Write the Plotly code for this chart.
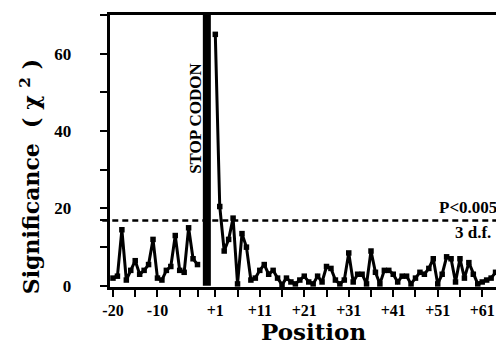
import plotly.graph_objects as go

# ---- data ----
neg_positions = list(range(-20, 0))
neg_values = [2, 2.5, 14.5, 1.5, 4, 6.5, 3, 4, 5.5, 12,
              2, 1.5, 4, 5, 13, 4, 3.5, 15, 7, 5.5]

pos_positions = list(range(1, 65))
pos_values = [65, 20.5, 9, 12, 17.5, 0.5, 13.5, 10, 1.5, 2,
              4, 5.5, 3, 4, 2, 0.3, 2, 1, 0.5, 1.5,
              2.5, 1, 0.5, 2.5, 1, 5, 4.5, 1.5, 0.5, 1.5,
              8.5, 1, 3, 3, 0.5, 9, 3.5, 0.5, 4, 4,
              3, 1, 2.5, 2.5, 0.5, 2, 3.5, 3, 4.5, 7,
              0.5, 3, 7.5, 7, 1, 7, 2, 6, 3, 0.5,
              1, 1.5, 2, 3.5]

threshold = 16.9
tick_positions = [-20, -15, -10, -5, -1, 1, 6, 11, 16, 21, 26, 31, 36, 41, 46, 51, 56, 61]
labelled_ticks = {-20: "-20", -10: "-10", 1: "+1", 11: "+11", 21: "+21",
                  31: "+31", 41: "+41", 51: "+51", 61: "+61"}
y_ticks = [0, 10, 20, 30, 40, 50, 60, 70]
y_labels = {0: "0", 20: "20", 40: "40", 60: "60"}

STOP_GAP = 2  # axis room taken by the stop codon between -1 and +1


def axis_x(p):
    return p if p < 0 else p + STOP_GAP


serif = "Liberation Serif"
wide_serif = "DejaVu Serif"
PAD = "\u00a0" * 6  # gap between y tick labels and ticks

fig = go.Figure()
line_style = dict(color="black", width=3)
marker_style = dict(symbol="square", size=5.5, color="black")
fig.add_trace(go.Scatter(x=[axis_x(p) for p in neg_positions], y=neg_values,
                         mode="lines+markers", line=line_style, marker=marker_style,
                         showlegend=False, cliponaxis=False, hoverinfo="skip"))
fig.add_trace(go.Scatter(x=[axis_x(p) for p in pos_positions], y=pos_values,
                         mode="lines+markers", line=line_style, marker=marker_style,
                         showlegend=False, cliponaxis=False, hoverinfo="skip"))

# stop codon bar
fig.add_shape(type="rect", xref="x", yref="y", x0=0.2, x1=2.0, y0=0, y1=70,
              fillcolor="black", line=dict(width=0))
# significance threshold
fig.add_shape(type="line", xref="paper", yref="y", x0=-0.02, x1=1,
              y0=threshold, y1=threshold,
              line=dict(color="black", width=2.5, dash="6px,4px"))

fig.add_annotation(x=-1.35, y=43.4, xref="x", yref="y", text="STOP CODON",
                   textangle=-90, showarrow=False, xanchor="center", yanchor="middle",
                   font=dict(family=serif, size=17, color="black", weight="bold"))
fig.add_annotation(x=52.8, y=20.3, xref="x", yref="y", text="P&lt;0.005",
                   xanchor="left", yanchor="middle", showarrow=False,
                   font=dict(family=serif, size=17, color="black", weight="bold"))
fig.add_annotation(x=65.4, y=13.7, xref="x", yref="y", text="3 d.f.",
                   xanchor="right", yanchor="middle", showarrow=False,
                   font=dict(family=serif, size=17, color="black", weight="bold"))
fig.add_annotation(x=-0.207, y=0.404, xref="paper", yref="paper",
                   xanchor="center", yanchor="middle",
                   text="Significance  ( χ <sup>2</sup> )", textangle=-90, showarrow=False,
                   font=dict(family=wide_serif, size=22, color="black", weight="bold"))
fig.add_annotation(x=0.528, y=-0.162, xref="paper", yref="paper",
                   xanchor="center", yanchor="middle",
                   text="Position", showarrow=False,
                   font=dict(family=wide_serif, size=23, color="black", weight="bold"))

fig.update_layout(
    width=496, height=345,
    margin=dict(l=110, r=0, t=15, b=58),
    paper_bgcolor="white", plot_bgcolor="white",
    hovermode=False,
    xaxis=dict(range=[-20.67, 66.1], showgrid=False, zeroline=False,
               showline=True, linecolor="black", linewidth=2.5, mirror=True,
               ticks="outside", ticklen=7, tickwidth=2, tickcolor="black",
               tickvals=[axis_x(p) for p in tick_positions],
               ticktext=[labelled_ticks.get(p, "") for p in tick_positions],
               tickfont=dict(family=serif, size=16, color="black", weight="bold")),
    yaxis=dict(range=[-0.3, 70], showgrid=False, zeroline=False,
               showline=True, linecolor="black", linewidth=2.5,
               ticks="outside", ticklen=7, tickwidth=2, tickcolor="black",
               tickvals=y_ticks + [threshold],
               ticktext=[(y_labels[v] + PAD) if v in y_labels else "" for v in y_ticks] + [""],
               tickfont=dict(family=serif, size=17, color="black", weight="bold")),
)

fig.write_html("out.html", config={"displayModeBar": False},
               post_script="document.body.style.margin='0';document.body.style.overflow='hidden';")
